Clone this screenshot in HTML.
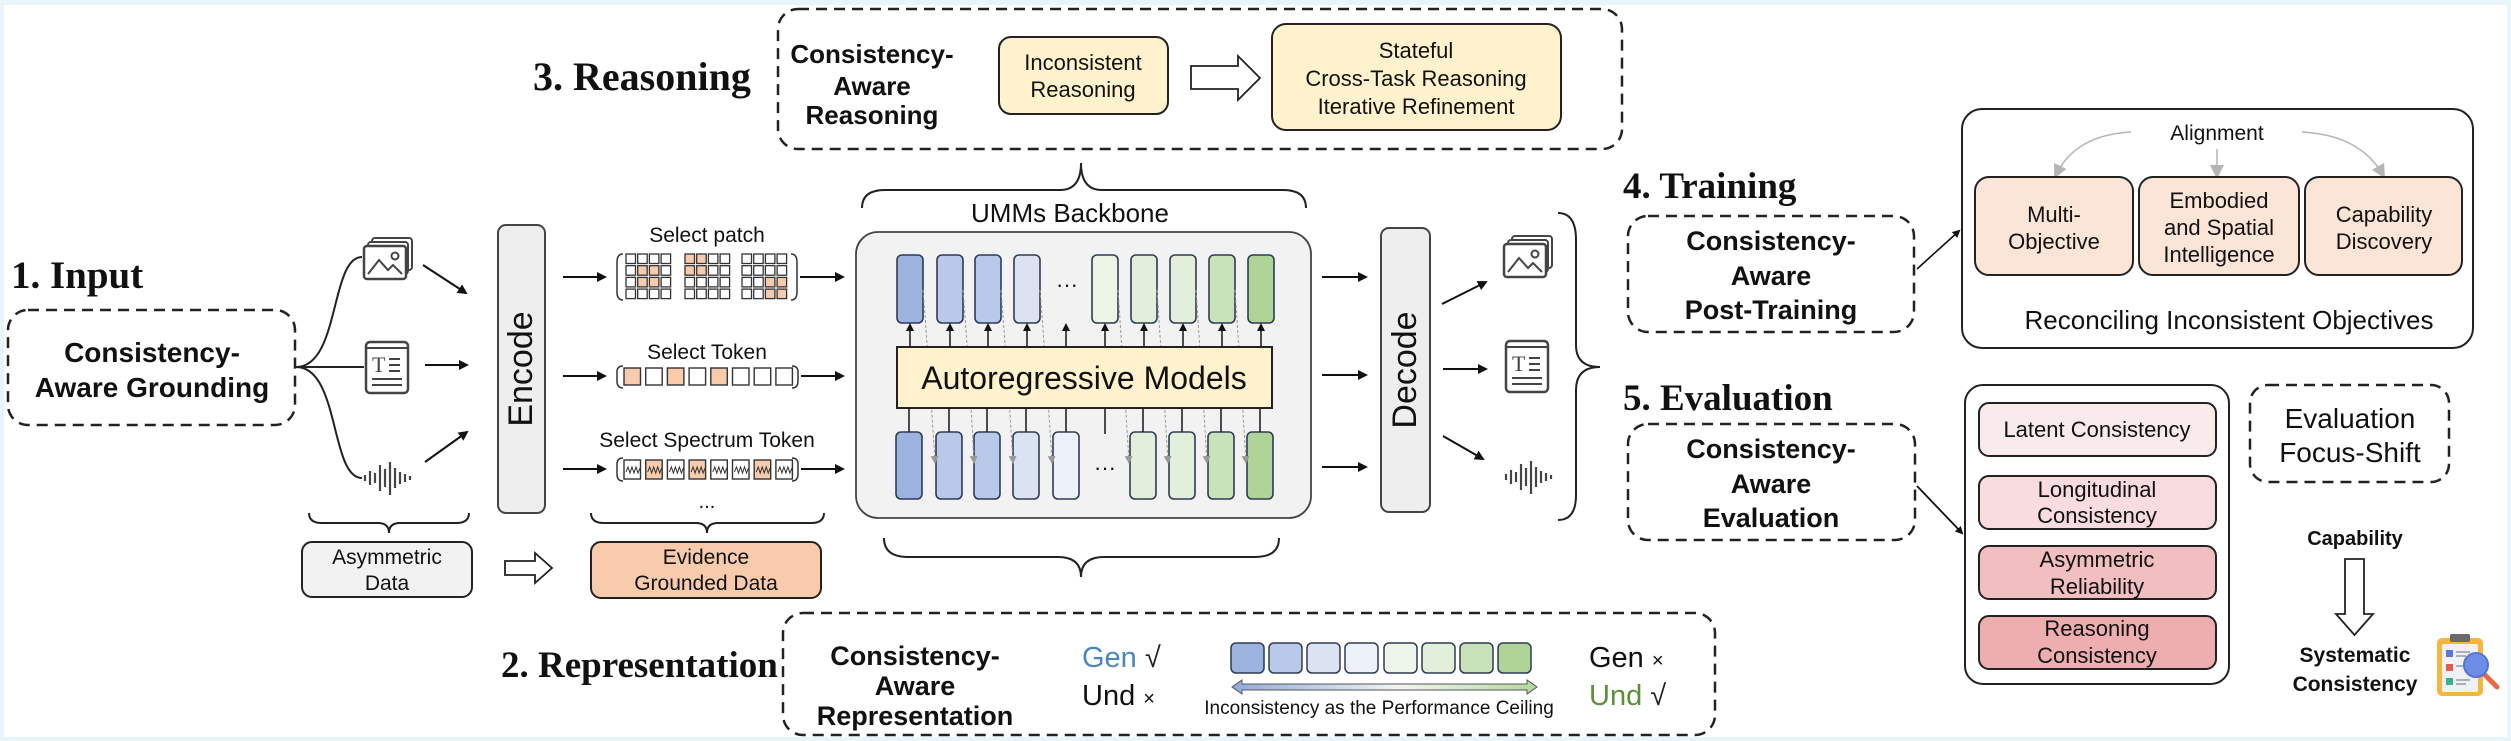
<!DOCTYPE html>
<html><head><meta charset="utf-8">
<style>
html,body{margin:0;padding:0;background:#e9f4fb;}
svg{display:block;}
text{font-family:"Liberation Sans",Arial,sans-serif;fill:#111;}
.serif{font-family:"Liberation Serif","Times New Roman",serif;font-weight:bold;}
.b{font-weight:bold;}
</style></head>
<body>
<svg width="2511" height="741" viewBox="0 0 2511 741" xmlns="http://www.w3.org/2000/svg">
<defs>
<marker id="ah" markerWidth="10" markerHeight="10" refX="8" refY="5" orient="auto" markerUnits="userSpaceOnUse"><path d="M0,0 L10,5 L0,10 Z" fill="#111"/></marker>
<marker id="ahs" markerWidth="8" markerHeight="8" refX="6" refY="4" orient="auto" markerUnits="userSpaceOnUse"><path d="M0,0 L8,4 L0,8 Z" fill="#111"/></marker>
<marker id="ahg" markerWidth="14" markerHeight="14" refX="10" refY="7" orient="auto" markerUnits="userSpaceOnUse"><path d="M0,0 L14,7 L0,14 Z" fill="#b5b5b5"/></marker>
<marker id="ahd" markerWidth="8" markerHeight="8" refX="6" refY="4" orient="auto" markerUnits="userSpaceOnUse"><path d="M0,0 L8,4 L0,8 Z" fill="#999"/></marker>
<linearGradient id="grad" x1="0" x2="1" y1="0" y2="0"><stop offset="0" stop-color="#8eaadb"/><stop offset="0.55" stop-color="#f2f5f2"/><stop offset="1" stop-color="#b4d89c"/></linearGradient>
<g id="imgicon">
  <rect x="8" y="0" width="40" height="32" rx="3" fill="#fff" stroke="#444" stroke-width="2"/>
  <rect x="4" y="4" width="40" height="32" rx="3" fill="#fff" stroke="#444" stroke-width="2"/>
  <rect x="0" y="8" width="42" height="33" rx="3" fill="#fff" stroke="#444" stroke-width="2.5"/>
  <polyline points="4,36 15,22 24,32 29,27 38,36" fill="none" stroke="#444" stroke-width="2"/>
  <circle cx="31" cy="18" r="3.5" fill="none" stroke="#444" stroke-width="2"/>
</g>
<g id="txticon">
  <rect x="0" y="0" width="42" height="51" rx="4" fill="#fff" stroke="#444" stroke-width="2.5"/>
  <line x1="0" y1="6" x2="42" y2="6" stroke="#444" stroke-width="2"/>
  <text x="6" y="30" style="font-family:'Liberation Serif',serif;font-size:22px;fill:#444">T</text>
  <line x1="23" y1="17" x2="34" y2="17" stroke="#444" stroke-width="2"/>
  <line x1="23" y1="23" x2="34" y2="23" stroke="#444" stroke-width="2"/>
  <line x1="23" y1="29" x2="34" y2="29" stroke="#444" stroke-width="2"/>
  <line x1="6" y1="37" x2="36" y2="37" stroke="#444" stroke-width="2"/>
  <line x1="6" y1="43" x2="36" y2="43" stroke="#444" stroke-width="2"/>
</g>
<g id="audicon" stroke="#444" stroke-width="2.2">
  <line x1="2" y1="13" x2="2" y2="19"/><line x1="7" y1="9" x2="7" y2="23"/><line x1="12" y1="11" x2="12" y2="21"/>
  <line x1="17" y1="3" x2="17" y2="29"/><line x1="22" y1="7" x2="22" y2="25"/><line x1="27" y1="0" x2="27" y2="33"/>
  <line x1="32" y1="6" x2="32" y2="26"/><line x1="37" y1="10" x2="37" y2="22"/><line x1="42" y1="12" x2="42" y2="20"/>
  <line x1="47" y1="14" x2="47" y2="18"/>
</g>
</defs>

<rect x="4" y="5" width="2503" height="732" fill="#fff"/>

<text class="serif" x="11" y="288" font-size="39">1. Input</text>
<rect x="8" y="310" width="287" height="115" rx="20" fill="none" stroke="#222" stroke-width="2.5" stroke-dasharray="11 7"/>
<text class="b" x="152" y="362" font-size="28" text-anchor="middle">Consistency-</text>
<text class="b" x="152" y="397" font-size="28" text-anchor="middle">Aware Grounding</text>

<path d="M296,367 C340,367 330,257 362,257" fill="none" stroke="#222" stroke-width="2"/>
<path d="M296,367 L364,367" fill="none" stroke="#222" stroke-width="2"/>
<path d="M296,367 C340,367 330,478 362,478" fill="none" stroke="#222" stroke-width="2"/>

<use href="#imgicon" x="364" y="238"/>
<use href="#txticon" x="366" y="342"/>
<use href="#audicon" x="363" y="462"/>

<line x1="423" y1="265" x2="466" y2="293" stroke="#111" stroke-width="2" marker-end="url(#ah)"/>
<line x1="425" y1="365" x2="467" y2="365" stroke="#111" stroke-width="2" marker-end="url(#ah)"/>
<line x1="425" y1="462" x2="467" y2="432" stroke="#111" stroke-width="2" marker-end="url(#ah)"/>

<rect x="498" y="225" width="47" height="288" rx="8" fill="#eeeeee" stroke="#444" stroke-width="2"/>
<text x="521" y="369" font-size="34" text-anchor="middle" dominant-baseline="central" transform="rotate(-90 521 369)">Encode</text>

<text x="707" y="242" font-size="21" text-anchor="middle">Select patch</text>
<line x1="563" y1="277" x2="605" y2="277" stroke="#111" stroke-width="2" marker-end="url(#ah)"/>
<path d="M623,254 Q617,254 617,262 L617,292 Q617,300 623,300" fill="none" stroke="#333" stroke-width="1.5"/>
<path d="M791,254 Q797,254 797,262 L797,292 Q797,300 791,300" fill="none" stroke="#333" stroke-width="1.5"/>
<line x1="800" y1="277" x2="843" y2="277" stroke="#111" stroke-width="2" marker-end="url(#ah)"/>
<g stroke="#333" stroke-width="1.3">
<rect x="626" y="254" width="9.5" height="9.5" fill="#fff"/><rect x="637.7" y="254" width="9.5" height="9.5" fill="#fff"/><rect x="649.4" y="254" width="9.5" height="9.5" fill="#fff"/><rect x="661.1" y="254" width="9.5" height="9.5" fill="#fff"/>
<rect x="626" y="265.7" width="9.5" height="9.5" fill="#fff"/><rect x="637.7" y="265.7" width="9.5" height="9.5" fill="#f8cbad"/><rect x="649.4" y="265.7" width="9.5" height="9.5" fill="#f8cbad"/><rect x="661.1" y="265.7" width="9.5" height="9.5" fill="#fff"/>
<rect x="626" y="277.4" width="9.5" height="9.5" fill="#fff"/><rect x="637.7" y="277.4" width="9.5" height="9.5" fill="#f8cbad"/><rect x="649.4" y="277.4" width="9.5" height="9.5" fill="#f8cbad"/><rect x="661.1" y="277.4" width="9.5" height="9.5" fill="#fff"/>
<rect x="626" y="289.1" width="9.5" height="9.5" fill="#fff"/><rect x="637.7" y="289.1" width="9.5" height="9.5" fill="#fff"/><rect x="649.4" y="289.1" width="9.5" height="9.5" fill="#fff"/><rect x="661.1" y="289.1" width="9.5" height="9.5" fill="#fff"/>
<rect x="685" y="254" width="9.5" height="9.5" fill="#f8cbad"/><rect x="696.7" y="254" width="9.5" height="9.5" fill="#f8cbad"/><rect x="708.4" y="254" width="9.5" height="9.5" fill="#fff"/><rect x="720.1" y="254" width="9.5" height="9.5" fill="#fff"/>
<rect x="685" y="265.7" width="9.5" height="9.5" fill="#f8cbad"/><rect x="696.7" y="265.7" width="9.5" height="9.5" fill="#f8cbad"/><rect x="708.4" y="265.7" width="9.5" height="9.5" fill="#fff"/><rect x="720.1" y="265.7" width="9.5" height="9.5" fill="#fff"/>
<rect x="685" y="277.4" width="9.5" height="9.5" fill="#fff"/><rect x="696.7" y="277.4" width="9.5" height="9.5" fill="#fff"/><rect x="708.4" y="277.4" width="9.5" height="9.5" fill="#fff"/><rect x="720.1" y="277.4" width="9.5" height="9.5" fill="#fff"/>
<rect x="685" y="289.1" width="9.5" height="9.5" fill="#fff"/><rect x="696.7" y="289.1" width="9.5" height="9.5" fill="#fff"/><rect x="708.4" y="289.1" width="9.5" height="9.5" fill="#fff"/><rect x="720.1" y="289.1" width="9.5" height="9.5" fill="#fff"/>
<rect x="742" y="254" width="9.5" height="9.5" fill="#fff"/><rect x="753.7" y="254" width="9.5" height="9.5" fill="#fff"/><rect x="765.4" y="254" width="9.5" height="9.5" fill="#fff"/><rect x="777.1" y="254" width="9.5" height="9.5" fill="#fff"/>
<rect x="742" y="265.7" width="9.5" height="9.5" fill="#fff"/><rect x="753.7" y="265.7" width="9.5" height="9.5" fill="#fff"/><rect x="765.4" y="265.7" width="9.5" height="9.5" fill="#fff"/><rect x="777.1" y="265.7" width="9.5" height="9.5" fill="#fff"/>
<rect x="742" y="277.4" width="9.5" height="9.5" fill="#fff"/><rect x="753.7" y="277.4" width="9.5" height="9.5" fill="#fff"/><rect x="765.4" y="277.4" width="9.5" height="9.5" fill="#f8cbad"/><rect x="777.1" y="277.4" width="9.5" height="9.5" fill="#f8cbad"/>
<rect x="742" y="289.1" width="9.5" height="9.5" fill="#fff"/><rect x="753.7" y="289.1" width="9.5" height="9.5" fill="#fff"/><rect x="765.4" y="289.1" width="9.5" height="9.5" fill="#f8cbad"/><rect x="777.1" y="289.1" width="9.5" height="9.5" fill="#f8cbad"/>
</g>

<text x="707" y="359" font-size="21" text-anchor="middle">Select Token</text>
<line x1="563" y1="376" x2="605" y2="376" stroke="#111" stroke-width="2" marker-end="url(#ah)"/>
<path d="M623,366 Q617,366 617,372 L617,381 Q617,388 623,388" fill="none" stroke="#333" stroke-width="1.5"/>
<path d="M792,366 Q798,366 798,372 L798,381 Q798,388 792,388" fill="none" stroke="#333" stroke-width="1.5"/>
<g stroke="#333" stroke-width="1.4">
<rect x="624" y="368" width="16.5" height="17" fill="#f8cbad"/><rect x="645.7" y="368" width="16.5" height="17" fill="#fff"/><rect x="667.4" y="368" width="16.5" height="17" fill="#f8cbad"/><rect x="689.1" y="368" width="16.5" height="17" fill="#fff"/>
<rect x="710.8" y="368" width="16.5" height="17" fill="#f8cbad"/><rect x="732.5" y="368" width="16.5" height="17" fill="#fff"/><rect x="754.2" y="368" width="16.5" height="17" fill="#fff"/><rect x="775.9" y="368" width="16.5" height="17" fill="#fff"/>
</g>
<line x1="801" y1="376" x2="843" y2="376" stroke="#111" stroke-width="2" marker-end="url(#ah)"/>

<text x="707" y="447" font-size="21" text-anchor="middle">Select Spectrum Token</text>
<line x1="563" y1="469" x2="605" y2="469" stroke="#111" stroke-width="2" marker-end="url(#ah)"/>
<path d="M623,458 Q617,458 617,464 L617,474 Q617,481 623,481" fill="none" stroke="#333" stroke-width="1.5"/>
<path d="M792,458 Q798,458 798,464 L798,474 Q798,481 792,481" fill="none" stroke="#333" stroke-width="1.5"/>
<g stroke="#333" stroke-width="1.4">
<rect x="624" y="460" width="16.5" height="19" fill="#fff"/><rect x="645.7" y="460" width="16.5" height="19" fill="#f8cbad"/><rect x="667.4" y="460" width="16.5" height="19" fill="#fff"/><rect x="689.1" y="460" width="16.5" height="19" fill="#f8cbad"/>
<rect x="710.8" y="460" width="16.5" height="19" fill="#fff"/><rect x="732.5" y="460" width="16.5" height="19" fill="#fff"/><rect x="754.2" y="460" width="16.5" height="19" fill="#f8cbad"/><rect x="775.9" y="460" width="16.5" height="19" fill="#fff"/>
</g>
<g fill="none" stroke="#333" stroke-width="1">
<path d="M626,472 l2,-5 l2,6 l2,-6 l2,6 l2,-6 l2,6 l2,-5"/><path d="M647.7,472 l2,-5 l2,6 l2,-6 l2,6 l2,-6 l2,6 l2,-5"/><path d="M669.4,472 l2,-5 l2,6 l2,-6 l2,6 l2,-6 l2,6 l2,-5"/><path d="M691.1,472 l2,-5 l2,6 l2,-6 l2,6 l2,-6 l2,6 l2,-5"/>
<path d="M712.8,472 l2,-5 l2,6 l2,-6 l2,6 l2,-6 l2,6 l2,-5"/><path d="M734.5,472 l2,-5 l2,6 l2,-6 l2,6 l2,-6 l2,6 l2,-5"/><path d="M756.2,472 l2,-5 l2,6 l2,-6 l2,6 l2,-6 l2,6 l2,-5"/><path d="M777.9,472 l2,-5 l2,6 l2,-6 l2,6 l2,-6 l2,6 l2,-5"/>
</g>
<line x1="801" y1="469" x2="843" y2="469" stroke="#111" stroke-width="2" marker-end="url(#ah)"/>
<text x="707" y="508" font-size="20" text-anchor="middle">...</text>

<path d="M309,513 Q309,523 322,523 L378,523 Q389,523 389,533 Q389,523 400,523 L456,523 Q469,523 469,513" fill="none" stroke="#222" stroke-width="2"/>
<path d="M591,513 Q591,523 604,523 L696,523 Q707,523 707,533 Q707,523 718,523 L811,523 Q824,523 824,513" fill="none" stroke="#222" stroke-width="2"/>

<rect x="302" y="542" width="170" height="55" rx="10" fill="#f2f2f2" stroke="#222" stroke-width="2"/>
<text x="387" y="564" font-size="21" text-anchor="middle">Asymmetric</text>
<text x="387" y="590" font-size="21" text-anchor="middle">Data</text>
<path d="M505,561 L535,561 L535,553 L552,568 L535,583 L535,575 L505,575 Z" fill="#fff" stroke="#222" stroke-width="1.8"/>
<rect x="591" y="542" width="230" height="56" rx="10" fill="#f8cbad" stroke="#222" stroke-width="2"/>
<text x="706" y="564" font-size="21" text-anchor="middle">Evidence</text>
<text x="706" y="590" font-size="21" text-anchor="middle">Grounded Data</text>

<path d="M862,208 Q862,190 885,190 L1060,190 Q1081,190 1081,163 Q1081,190 1102,190 L1283,190 Q1306,190 1306,208" fill="none" stroke="#222" stroke-width="2"/>
<text x="1070" y="222" font-size="26" text-anchor="middle">UMMs Backbone</text>
<rect x="856" y="232" width="455" height="286" rx="22" fill="#f2f2f2" stroke="#444" stroke-width="1.8"/>

<g stroke="#2f3b55" stroke-width="1.6">
<rect x="897" y="255" width="26" height="68" rx="5" fill="#9cb3df"/>
<rect x="937" y="255" width="26" height="68" rx="5" fill="#b8c9e9"/>
<rect x="975" y="255" width="26" height="68" rx="5" fill="#b8c9e9"/>
<rect x="1014" y="255" width="26" height="68" rx="5" fill="#dbe3f3"/>
<rect x="1092" y="255" width="26" height="68" rx="5" fill="#ecf4e6"/>
<rect x="1131" y="255" width="26" height="68" rx="5" fill="#e2efda"/>
<rect x="1170" y="255" width="26" height="68" rx="5" fill="#e2efda"/>
<rect x="1209" y="255" width="26" height="68" rx="5" fill="#c8e2b9"/>
<rect x="1248" y="255" width="26" height="68" rx="5" fill="#aed497"/>
<rect x="896" y="432" width="26" height="67" rx="5" fill="#9cb3df"/>
<rect x="936" y="432" width="26" height="67" rx="5" fill="#b8c9e9"/>
<rect x="974" y="432" width="26" height="67" rx="5" fill="#b8c9e9"/>
<rect x="1013" y="432" width="26" height="67" rx="5" fill="#dbe3f3"/>
<rect x="1053" y="432" width="26" height="67" rx="5" fill="#edf1fa"/>
<rect x="1130" y="432" width="26" height="67" rx="5" fill="#e2efda"/>
<rect x="1169" y="432" width="26" height="67" rx="5" fill="#e2efda"/>
<rect x="1208" y="432" width="26" height="67" rx="5" fill="#c8e2b9"/>
<rect x="1247" y="432" width="26" height="67" rx="5" fill="#aed497"/>
</g>
<text x="1067" y="292" font-size="22" text-anchor="middle">···</text>
<text x="1105" y="475" font-size="22" text-anchor="middle">···</text>
<g stroke="#999" stroke-width="1" stroke-dasharray="3 2" fill="none" marker-end="url(#ahd)">
<path d="M923,290 Q930,380 935,462"/><path d="M963,290 Q970,380 974,462"/><path d="M1001,290 Q1008,380 1013,462"/><path d="M1040,290 Q1047,380 1052,462"/>
<path d="M1118,290 Q1124,380 1129,462"/><path d="M1157,290 Q1163,380 1168,462"/><path d="M1196,290 Q1202,380 1207,462"/><path d="M1235,290 Q1241,380 1246,462"/>
</g>
<g stroke="#222" stroke-width="1.6" marker-end="url(#ahs)">
<line x1="910" y1="347" x2="910" y2="325"/><line x1="950" y1="347" x2="950" y2="325"/><line x1="988" y1="347" x2="988" y2="325"/><line x1="1027" y1="347" x2="1027" y2="325"/><line x1="1066" y1="347" x2="1066" y2="325"/>
<line x1="1105" y1="347" x2="1105" y2="325"/><line x1="1144" y1="347" x2="1144" y2="325"/><line x1="1183" y1="347" x2="1183" y2="325"/><line x1="1222" y1="347" x2="1222" y2="325"/><line x1="1261" y1="347" x2="1261" y2="325"/>
</g>
<g stroke="#222" stroke-width="1.6">
<line x1="909" y1="408" x2="909" y2="432"/><line x1="949" y1="408" x2="949" y2="432"/><line x1="987" y1="408" x2="987" y2="432"/><line x1="1026" y1="408" x2="1026" y2="432"/><line x1="1066" y1="408" x2="1066" y2="432"/>
<line x1="1105" y1="408" x2="1105" y2="434"/><line x1="1143" y1="408" x2="1143" y2="432"/><line x1="1182" y1="408" x2="1182" y2="432"/><line x1="1221" y1="408" x2="1221" y2="432"/><line x1="1260" y1="408" x2="1260" y2="432"/>
</g>
<rect x="897" y="347" width="375" height="61" fill="#fff2cc" stroke="#222" stroke-width="2"/>
<text x="1084" y="389" font-size="32" text-anchor="middle">Autoregressive Models</text>

<path d="M884,538 Q884,557 908,557 L1058,557 Q1081,557 1081,577 Q1081,557 1104,557 L1255,557 Q1279,557 1279,538" fill="none" stroke="#222" stroke-width="2"/>

<line x1="1322" y1="277" x2="1366" y2="277" stroke="#111" stroke-width="2" marker-end="url(#ah)"/>
<line x1="1322" y1="375" x2="1366" y2="375" stroke="#111" stroke-width="2" marker-end="url(#ah)"/>
<line x1="1322" y1="467" x2="1366" y2="467" stroke="#111" stroke-width="2" marker-end="url(#ah)"/>

<rect x="1381" y="228" width="49" height="284" rx="8" fill="#eeeeee" stroke="#444" stroke-width="2"/>
<text x="1405" y="370" font-size="34" text-anchor="middle" dominant-baseline="central" transform="rotate(-90 1405 370)">Decode</text>

<line x1="1442" y1="304" x2="1486" y2="282" stroke="#111" stroke-width="2" marker-end="url(#ah)"/>
<line x1="1443" y1="369" x2="1486" y2="369" stroke="#111" stroke-width="2" marker-end="url(#ah)"/>
<line x1="1443" y1="436" x2="1483" y2="459" stroke="#111" stroke-width="2" marker-end="url(#ah)"/>
<use href="#imgicon" x="1504" y="236"/>
<use href="#txticon" x="1506" y="341"/>
<use href="#audicon" x="1504" y="461"/>

<path d="M1558,213 Q1576,213 1576,240 L1576,345 Q1576,367 1600,367 Q1576,367 1576,390 L1576,495 Q1576,520 1558,520" fill="none" stroke="#222" stroke-width="2"/>

<text class="serif" x="533" y="90" font-size="40">3. Reasoning</text>
<rect x="778" y="9" width="844" height="140" rx="20" fill="none" stroke="#222" stroke-width="2.5" stroke-dasharray="11 7"/>
<text class="b" x="872" y="63" font-size="26" text-anchor="middle">Consistency-</text>
<text class="b" x="872" y="95" font-size="26" text-anchor="middle">Aware</text>
<text class="b" x="872" y="124" font-size="26" text-anchor="middle">Reasoning</text>
<rect x="999" y="37" width="169" height="77" rx="12" fill="#fff2cc" stroke="#222" stroke-width="2"/>
<text x="1083" y="70" font-size="22" text-anchor="middle">Inconsistent</text>
<text x="1083" y="97" font-size="22" text-anchor="middle">Reasoning</text>
<path d="M1191,66 L1238,66 L1238,56 L1260,78 L1238,100 L1238,89 L1191,89 Z" fill="#fff" stroke="#222" stroke-width="1.8"/>
<rect x="1272" y="24" width="289" height="106" rx="14" fill="#fff2cc" stroke="#222" stroke-width="2"/>
<text x="1416" y="58" font-size="22" text-anchor="middle">Stateful</text>
<text x="1416" y="86" font-size="22" text-anchor="middle">Cross-Task Reasoning</text>
<text x="1416" y="114" font-size="22" text-anchor="middle">Iterative Refinement</text>

<text class="serif" x="501" y="677" font-size="37">2. Representation</text>
<rect x="783" y="613" width="932" height="122" rx="20" fill="none" stroke="#222" stroke-width="2.5" stroke-dasharray="11 7"/>
<text class="b" x="915" y="665" font-size="27" text-anchor="middle">Consistency-</text>
<text class="b" x="915" y="695" font-size="27" text-anchor="middle">Aware</text>
<text class="b" x="915" y="725" font-size="27" text-anchor="middle">Representation</text>
<text x="1082" y="667" font-size="29" style="fill:#4a86bf">Gen <tspan style="fill:#222">√</tspan></text>
<text x="1082" y="705" font-size="29">Und <tspan font-size="20">×</tspan></text>
<g stroke="#2f3b55" stroke-width="1.5">
<rect x="1231" y="643" width="33" height="30" rx="5" fill="#9cb3df"/><rect x="1269" y="643" width="33" height="30" rx="5" fill="#b8c9e9"/>
<rect x="1307" y="643" width="33" height="30" rx="5" fill="#dbe3f3"/><rect x="1345" y="643" width="33" height="30" rx="5" fill="#edf1fa"/>
<rect x="1384" y="643" width="33" height="30" rx="5" fill="#eef5e9"/><rect x="1422" y="643" width="33" height="30" rx="5" fill="#e2efda"/>
<rect x="1460" y="643" width="33" height="30" rx="5" fill="#c8e2b9"/><rect x="1498" y="643" width="33" height="30" rx="5" fill="#aed497"/>
</g>
<path d="M1232,687 L1242,680 L1242,684 L1527,684 L1527,680 L1537,687 L1527,694 L1527,690 L1242,690 L1242,694 Z" fill="url(#grad)" stroke="#555" stroke-width="1"/>
<text x="1379" y="714" font-size="19" text-anchor="middle">Inconsistency as the Performance Ceiling</text>
<text x="1589" y="667" font-size="29">Gen <tspan font-size="20">×</tspan></text>
<text x="1589" y="705" font-size="29" style="fill:#5b8f3a">Und <tspan style="fill:#222">√</tspan></text>

<text class="serif" x="1623" y="198" font-size="37">4. Training</text>
<rect x="1628" y="216" width="286" height="116" rx="20" fill="none" stroke="#222" stroke-width="2.5" stroke-dasharray="11 7"/>
<text class="b" x="1771" y="250" font-size="27" text-anchor="middle">Consistency-</text>
<text class="b" x="1771" y="285" font-size="27" text-anchor="middle">Aware</text>
<text class="b" x="1771" y="319" font-size="27" text-anchor="middle">Post-Training</text>
<line x1="1917" y1="269" x2="1959" y2="231" stroke="#111" stroke-width="1.6" marker-end="url(#ahs)"/>
<rect x="1962" y="109" width="511" height="239" rx="20" fill="#fff" stroke="#222" stroke-width="2"/>
<text x="2217" y="140" font-size="21" text-anchor="middle">Alignment</text>
<path d="M2131,132 Q2075,135 2056,175" fill="none" stroke="#b5b5b5" stroke-width="1.5" marker-end="url(#ahg)"/>
<line x1="2217" y1="149" x2="2217" y2="175" stroke="#b5b5b5" stroke-width="1.5" marker-end="url(#ahg)"/>
<path d="M2302,132 Q2360,135 2383,175" fill="none" stroke="#b5b5b5" stroke-width="1.5" marker-end="url(#ahg)"/>
<rect x="1975" y="177" width="158" height="98" rx="14" fill="#fbe5d6" stroke="#222" stroke-width="2"/>
<rect x="2139" y="177" width="160" height="98" rx="14" fill="#fbe5d6" stroke="#222" stroke-width="2"/>
<rect x="2305" y="177" width="157" height="98" rx="14" fill="#fbe5d6" stroke="#222" stroke-width="2"/>
<text x="2054" y="222" font-size="22" text-anchor="middle">Multi-</text>
<text x="2054" y="249" font-size="22" text-anchor="middle">Objective</text>
<text x="2219" y="208" font-size="22" text-anchor="middle">Embodied</text>
<text x="2219" y="235" font-size="22" text-anchor="middle">and Spatial</text>
<text x="2219" y="262" font-size="22" text-anchor="middle">Intelligence</text>
<text x="2384" y="222" font-size="22" text-anchor="middle">Capability</text>
<text x="2384" y="249" font-size="22" text-anchor="middle">Discovery</text>
<text x="2229" y="329" font-size="26" text-anchor="middle">Reconciling Inconsistent Objectives</text>

<text class="serif" x="1623" y="410" font-size="37">5. Evaluation</text>
<rect x="1628" y="424" width="287" height="116" rx="20" fill="none" stroke="#222" stroke-width="2.5" stroke-dasharray="11 7"/>
<text class="b" x="1771" y="458" font-size="27" text-anchor="middle">Consistency-</text>
<text class="b" x="1771" y="493" font-size="27" text-anchor="middle">Aware</text>
<text class="b" x="1771" y="527" font-size="27" text-anchor="middle">Evaluation</text>
<line x1="1917" y1="486" x2="1962" y2="533" stroke="#111" stroke-width="1.8" marker-end="url(#ahs)"/>
<rect x="1965" y="385" width="264" height="299" rx="18" fill="#fff" stroke="#222" stroke-width="2"/>
<rect x="1979" y="403" width="237" height="53" rx="10" fill="#f9ebeb" stroke="#222" stroke-width="2"/>
<rect x="1979" y="476" width="237" height="53" rx="10" fill="#f8dce0" stroke="#222" stroke-width="2"/>
<rect x="1979" y="546" width="237" height="53" rx="10" fill="#f2bfc0" stroke="#222" stroke-width="2"/>
<rect x="1979" y="616" width="237" height="53" rx="10" fill="#eeadaf" stroke="#222" stroke-width="2"/>
<text x="2097" y="437" font-size="22" text-anchor="middle">Latent Consistency</text>
<text x="2097" y="497" font-size="22" text-anchor="middle">Longitudinal</text>
<text x="2097" y="523" font-size="22" text-anchor="middle">Consistency</text>
<text x="2097" y="567" font-size="22" text-anchor="middle">Asymmetric</text>
<text x="2097" y="594" font-size="22" text-anchor="middle">Reliability</text>
<text x="2097" y="636" font-size="22" text-anchor="middle">Reasoning</text>
<text x="2097" y="663" font-size="22" text-anchor="middle">Consistency</text>
<rect x="2250" y="385" width="199" height="97" rx="18" fill="none" stroke="#222" stroke-width="2.5" stroke-dasharray="11 7"/>
<text x="2350" y="428" font-size="28" text-anchor="middle">Evaluation</text>
<text x="2350" y="462" font-size="28" text-anchor="middle">Focus-Shift</text>
<text class="b" x="2355" y="545" font-size="20" text-anchor="middle">Capability</text>
<path d="M2345,559 L2364,559 L2364,614 L2373,614 L2354.5,635 L2336,614 L2345,614 Z" fill="#fff" stroke="#222" stroke-width="1.8"/>
<text class="b" x="2355" y="662" font-size="21" text-anchor="middle">Systematic</text>
<text class="b" x="2355" y="691" font-size="21" text-anchor="middle">Consistency</text>
<rect x="2437" y="638" width="46" height="58" rx="5" fill="#f4b63f"/>
<rect x="2442" y="644" width="36" height="48" rx="2" fill="#eef1f6"/>
<rect x="2450" y="634" width="20" height="8" rx="2" fill="#6b6b6b"/>
<rect x="2446" y="650" width="7" height="7" fill="#5b78d8"/><line x1="2456" y1="652" x2="2470" y2="652" stroke="#999" stroke-width="1.5"/><line x1="2456" y1="656" x2="2466" y2="656" stroke="#999" stroke-width="1.5"/>
<rect x="2446" y="664" width="7" height="7" fill="#e35d4d"/><line x1="2456" y1="666" x2="2466" y2="666" stroke="#999" stroke-width="1.5"/>
<rect x="2446" y="678" width="7" height="7" fill="#3cb08a"/><line x1="2456" y1="680" x2="2470" y2="680" stroke="#999" stroke-width="1.5"/><line x1="2456" y1="684" x2="2466" y2="684" stroke="#999" stroke-width="1.5"/>
<line x1="2484" y1="674" x2="2497" y2="687" stroke="#e8684a" stroke-width="5" stroke-linecap="round"/>
<circle cx="2476" cy="665" r="12" fill="#6d8de6" stroke="#5674d6" stroke-width="2"/>
</svg>
</body></html>
